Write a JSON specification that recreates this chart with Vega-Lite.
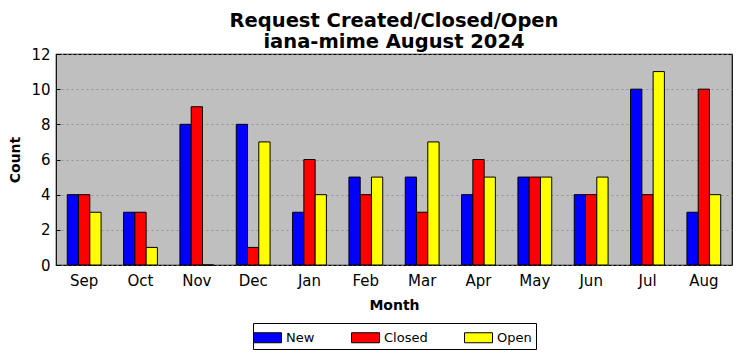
{
  "$schema": "https://vega.github.io/schema/vega-lite/v6.json",
  "width": 741,
  "height": 361,
  "autosize": {"type": "fit", "contains": "padding"},
  "background": "white",
  "padding": {"left": 8, "right": 9, "top": 10, "bottom": 11},
  "title": {
    "text": ["Request Created/Closed/Open", "iana-mime August 2024"],
    "font": "DejaVu Sans",
    "fontSize": 19.5,
    "fontWeight": "bold",
    "color": "black",
    "lineHeight": 21,
    "offset": -5
  },
  "data": {
    "values": [
      {"Month": "Sep", "Type": "New", "Count": 4}, {"Month": "Sep", "Type": "Closed", "Count": 4}, {"Month": "Sep", "Type": "Open", "Count": 3},
      {"Month": "Oct", "Type": "New", "Count": 3}, {"Month": "Oct", "Type": "Closed", "Count": 3}, {"Month": "Oct", "Type": "Open", "Count": 1},
      {"Month": "Nov", "Type": "New", "Count": 8}, {"Month": "Nov", "Type": "Closed", "Count": 9}, {"Month": "Nov", "Type": "Open", "Count": 0},
      {"Month": "Dec", "Type": "New", "Count": 8}, {"Month": "Dec", "Type": "Closed", "Count": 1}, {"Month": "Dec", "Type": "Open", "Count": 7},
      {"Month": "Jan", "Type": "New", "Count": 3}, {"Month": "Jan", "Type": "Closed", "Count": 6}, {"Month": "Jan", "Type": "Open", "Count": 4},
      {"Month": "Feb", "Type": "New", "Count": 5}, {"Month": "Feb", "Type": "Closed", "Count": 4}, {"Month": "Feb", "Type": "Open", "Count": 5},
      {"Month": "Mar", "Type": "New", "Count": 5}, {"Month": "Mar", "Type": "Closed", "Count": 3}, {"Month": "Mar", "Type": "Open", "Count": 7},
      {"Month": "Apr", "Type": "New", "Count": 4}, {"Month": "Apr", "Type": "Closed", "Count": 6}, {"Month": "Apr", "Type": "Open", "Count": 5},
      {"Month": "May", "Type": "New", "Count": 5}, {"Month": "May", "Type": "Closed", "Count": 5}, {"Month": "May", "Type": "Open", "Count": 5},
      {"Month": "Jun", "Type": "New", "Count": 4}, {"Month": "Jun", "Type": "Closed", "Count": 4}, {"Month": "Jun", "Type": "Open", "Count": 5},
      {"Month": "Jul", "Type": "New", "Count": 10}, {"Month": "Jul", "Type": "Closed", "Count": 4}, {"Month": "Jul", "Type": "Open", "Count": 11},
      {"Month": "Aug", "Type": "New", "Count": 3}, {"Month": "Aug", "Type": "Closed", "Count": 10}, {"Month": "Aug", "Type": "Open", "Count": 4}
    ]
  },
  "mark": {"type": "bar", "stroke": "black", "strokeWidth": 1},
  "encoding": {
    "x": {
      "field": "Month",
      "type": "nominal",
      "sort": ["Sep", "Oct", "Nov", "Dec", "Jan", "Feb", "Mar", "Apr", "May", "Jun", "Jul", "Aug"],
      "scale": {"paddingInner": 0.4, "paddingOuter": 0.2},
      "axis": {
        "title": "Month",
        "labelAngle": 0,
        "labelFontSize": 15,
        "labelFont": "DejaVu Sans",
        "labelColor": "black",
        "titleFont": "DejaVu Sans",
        "titleFontSize": 14,
        "titleFontWeight": "bold",
        "titleColor": "black",
        "titlePadding": 10,
        "tickSize": -4,
        "tickColor": "black",
        "labelPadding": 12,
        "domain": false
      }
    },
    "xOffset": {
      "field": "Type",
      "type": "nominal",
      "sort": ["New", "Closed", "Open"],
      "scale": {"paddingInner": 0, "paddingOuter": 0}
    },
    "y": {
      "field": "Count",
      "type": "quantitative",
      "scale": {"domain": [0, 12], "nice": false},
      "axis": {
        "title": "Count",
        "values": [0, 2, 4, 6, 8, 10, 12],
        "labelFontSize": 15,
        "labelFont": "DejaVu Sans",
        "labelColor": "black",
        "titleFont": "DejaVu Sans",
        "titleFontSize": 14,
        "titleFontWeight": "bold",
        "titleColor": "black",
        "titlePadding": 8,
        "tickSize": -4,
        "tickColor": "black",
        "labelPadding": 10,
        "domain": false,
        "grid": true,
        "gridColor": "#888888",
        "gridDash": [2, 3],
        "gridWidth": 0.8
      }
    },
    "color": {
      "field": "Type",
      "type": "nominal",
      "sort": ["New", "Closed", "Open"],
      "scale": {"domain": ["New", "Closed", "Open"], "range": ["#0000ff", "#ff0000", "#ffff00"]},
      "legend": {
        "orient": "bottom",
        "direction": "horizontal",
        "title": null,
        "labelFont": "DejaVu Sans",
        "labelFontSize": 13,
        "labelColor": "black",
        "labelOffset": 8,
        "symbolType": "M-1.4,-0.5H1.4V0.5H-1.4Z",
        "symbolSize": 400,
        "symbolStrokeColor": "black",
        "symbolStrokeWidth": 1,
        "symbolOpacity": 1,
        "strokeColor": "black",
        "padding": 4,
        "offset": 11,
        "columnPadding": 34
      }
    }
  },
  "config": {
    "view": {"fill": "#bfbfbf", "stroke": "black", "strokeWidth": 1.2},
    "legend": {"layout": {"bottom": {"anchor": "middle"}}}
  }
}
